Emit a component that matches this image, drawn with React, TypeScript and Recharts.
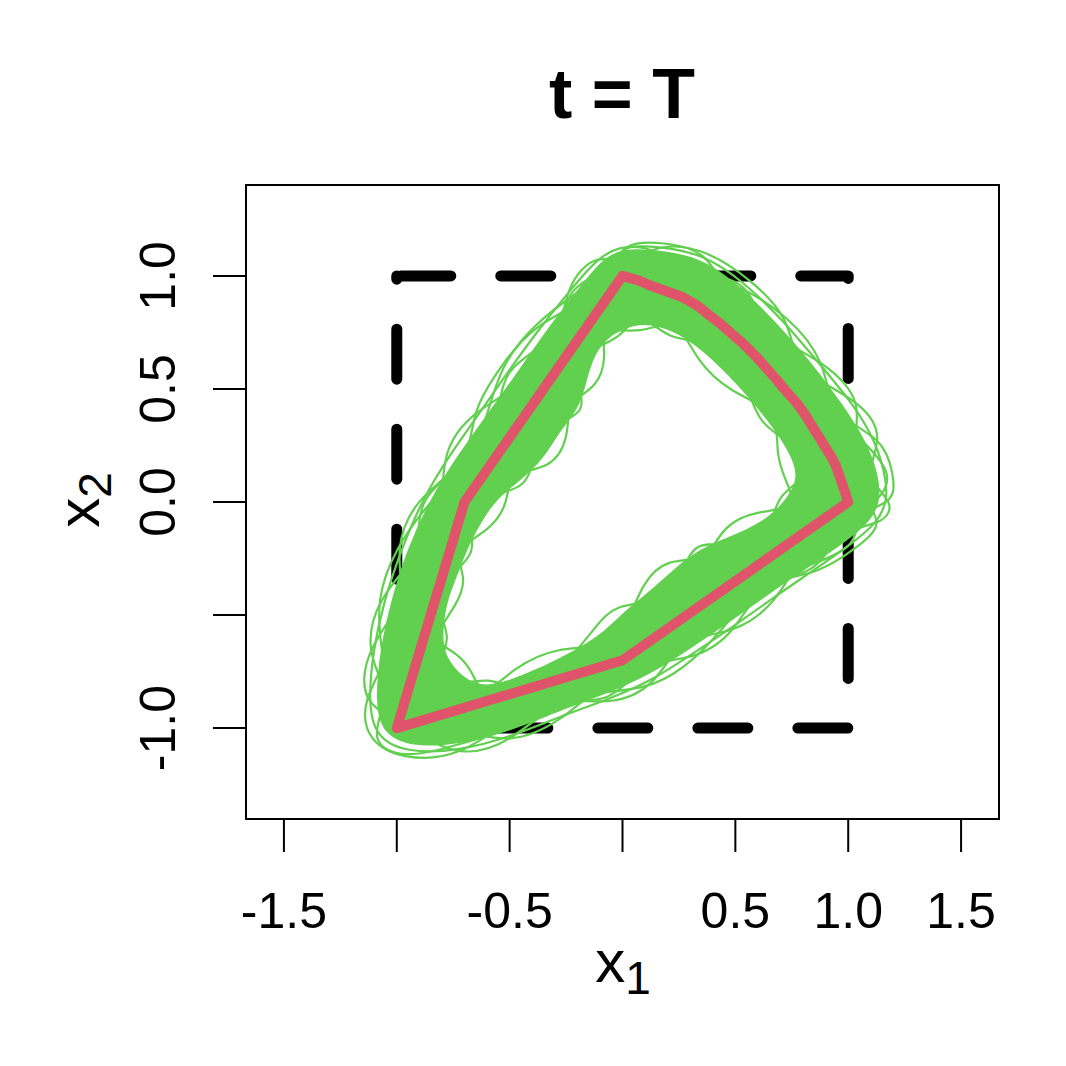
import { ScatterChart, Scatter, XAxis, YAxis, ReferenceArea } from 'recharts'

const GREEN = '#61D04F'
const RED = '#DF536B'
const FONT = '"Liberation Sans", Arial, Helvetica, sans-serif'

// axis limits and ticks
const X_DOMAIN = [-1.668, 1.668]
const Y_DOMAIN = [-1.402, 1.402]
const xTicks = [-1.5, -1, -0.5, 0, 0.5, 1, 1.5]
const xTickLabels = ['-1.5', '', '-0.5', '', '0.5', '1.0', '1.5']
const yTicks = [-1, -0.5, 0, 0.5, 1]
const yTickLabels = ['-1.0', '', '0.0', '0.5', '1.0']

// dashed square
const square = [[-1, 1], [1, 1], [1, -1], [-1, -1]]

// true boundary (red)
const truth = [
  [-1, -1], [-0.7, 0], [0, 1], [0.07, 0.98], [0.13, 0.955], [0.2, 0.93], [0.264, 0.907],
  [0.33, 0.87], [0.38, 0.83], [0.435, 0.787], [0.485, 0.743], [0.54, 0.695], [0.59, 0.645],
  [0.635, 0.595], [0.68, 0.544], [0.725, 0.49], [0.77, 0.44], [0.81, 0.385], [0.84, 0.336],
  [0.875, 0.28], [0.9, 0.24], [0.925, 0.2], [0.946, 0.159], [0.97, 0.09], [1, 0], [0, -0.7],
]

// dense band of estimates: outer edge and inner hole
const bandOuter = [
  [0.0, 1.12], [0.16, 1.11], [0.34, 1.08], [0.5, 0.97], [0.67, 0.8], [0.83, 0.62], [0.98, 0.42],
  [1.08, 0.26], [1.13, 0.12], [1.14, 0.01], [1.1, -0.08], [0.99, -0.17], [0.83, -0.28],
  [0.65, -0.4], [0.47, -0.53], [0.29, -0.65], [0.12, -0.76], [-0.06, -0.84], [-0.28, -0.92],
  [-0.5, -1.01], [-0.72, -1.07], [-0.95, -1.08], [-1.07, -1.01], [-1.09, -0.87], [-1.07, -0.65],
  [-1.02, -0.43], [-0.95, -0.21], [-0.85, 0.01], [-0.73, 0.2], [-0.6, 0.38], [-0.47, 0.56],
  [-0.34, 0.75], [-0.2, 0.93], [-0.09, 1.07],
]
const bandInner = [
  [0.073, 0.796], [0.219, 0.765], [0.361, 0.668], [0.507, 0.522], [0.64, 0.367], [0.738, 0.226],
  [0.782, 0.111], [0.729, 0.013], [0.627, -0.088], [0.472, -0.155], [0.339, -0.208],
  [0.228, -0.296], [0.117, -0.398], [-0.007, -0.496], [-0.104, -0.597], [-0.281, -0.695],
  [-0.481, -0.783], [-0.605, -0.819], [-0.702, -0.783], [-0.778, -0.695], [-0.8, -0.606],
  [-0.782, -0.451], [-0.738, -0.341], [-0.694, -0.221], [-0.636, -0.106], [-0.56, 0.013],
  [-0.459, 0.088], [-0.348, 0.19], [-0.281, 0.31], [-0.193, 0.412], [-0.162, 0.522],
  [-0.126, 0.655], [-0.051, 0.743],
]

// single estimated curves that stray outside the band
const est1 = [
  [0.0, 1.15], [0.18, 1.15], [0.38, 1.11], [0.46, 0.91], [0.62, 0.75], [0.9, 0.62], [1.07, 0.44],
  [1.01, 0.24], [1.06, 0.11], [1.07, 0.01], [1.16, -0.1], [1.04, -0.2], [0.87, -0.32],
  [0.61, -0.35], [0.43, -0.48], [0.26, -0.6], [0.14, -0.82], [-0.05, -0.9], [-0.28, -0.86],
  [-0.49, -0.95], [-0.72, -1.13], [-0.97, -1.14], [-1.13, -1.06], [-1.16, -0.88], [-1.01, -0.65],
  [-0.96, -0.43], [-1.01, -0.21], [-0.92, 0.02], [-0.67, 0.18], [-0.67, 0.4], [-0.54, 0.6],
  [-0.4, 0.78], [-0.15, 0.89], [-0.05, 1.02],
]
const est2 = [
  [0.0, 1.05], [0.18, 1.15], [0.38, 1.11], [0.56, 0.99], [0.74, 0.82], [0.77, 0.58], [0.92, 0.39],
  [1.16, 0.28], [1.2, 0.12], [1.21, 0.0], [1.04, -0.05], [0.95, -0.12], [0.79, -0.23],
  [0.68, -0.45], [0.5, -0.58], [0.26, -0.6], [0.09, -0.7], [-0.07, -0.78], [-0.28, -0.98],
  [-0.5, -1.07], [-0.7, -1.01], [-0.92, -1.02], [-1.01, -0.96], [-1.03, -0.86], [-1.14, -0.66],
  [-1.09, -0.43], [-0.89, -0.22], [-0.79, 0.0], [-0.8, 0.22], [-0.67, 0.4], [-0.41, 0.53],
  [-0.28, 0.71], [-0.25, 0.96], [-0.12, 1.1],
]
const est3 = [
  [0.0, 1.15], [0.16, 1.11], [0.31, 1.01], [0.5, 0.97], [0.74, 0.82], [0.9, 0.62], [0.92, 0.39],
  [1.08, 0.26], [1.2, 0.12], [1.14, 0.01], [1.04, -0.05], [1.04, -0.2], [0.83, -0.28],
  [0.61, -0.35], [0.47, -0.53], [0.32, -0.7], [0.14, -0.82], [-0.06, -0.84], [-0.28, -0.86],
  [-0.5, -1.01], [-0.72, -1.07], [-0.97, -1.14], [-1.13, -1.06], [-1.03, -0.86], [-1.07, -0.65],
  [-1.09, -0.43], [-1.01, -0.21], [-0.85, 0.01], [-0.67, 0.18], [-0.6, 0.38], [-0.54, 0.6],
  [-0.4, 0.78], [-0.2, 0.93], [-0.05, 1.02],
]
const est4 = [
  [0.0, 1.15], [0.15, 1.04], [0.31, 1.01], [0.56, 0.99], [0.62, 0.75], [0.77, 0.58], [1.07, 0.44],
  [1.16, 0.28], [1.06, 0.11], [1.21, 0.0], [1.16, -0.1], [0.95, -0.12], [0.87, -0.32],
  [0.61, -0.35], [0.5, -0.58], [0.32, -0.7], [0.09, -0.7], [-0.05, -0.9], [-0.28, -0.86],
  [-0.5, -1.07], [-0.72, -1.13], [-0.92, -1.02], [-1.01, -0.96], [-1.16, -0.88], [-1.14, -0.66],
  [-0.96, -0.43], [-0.89, -0.22], [-0.92, 0.02], [-0.67, 0.18], [-0.54, 0.36], [-0.54, 0.6],
  [-0.28, 0.71], [-0.25, 0.96], [-0.05, 1.02],
]
const est5 = [
  [0.0, 1.135], [0.17, 1.13], [0.36, 1.095], [0.53, 0.98], [0.705, 0.81], [0.865, 0.62],
  [1.025, 0.43], [1.12, 0.27], [1.165, 0.12], [1.175, 0.005], [1.13, -0.09], [1.015, -0.185],
  [0.85, -0.3], [0.665, -0.425], [0.485, -0.555], [0.305, -0.675], [0.13, -0.79], [-0.055, -0.87],
  [-0.28, -0.95], [-0.5, -1.04], [-0.72, -1.1], [-0.96, -1.11], [-1.1, -1.035], [-1.125, -0.875],
  [-1.105, -0.655], [-1.055, -0.43], [-0.98, -0.21], [-0.885, 0.015], [-0.765, 0.21],
  [-0.635, 0.39], [-0.505, 0.58], [-0.37, 0.765], [-0.225, 0.945], [-0.105, 1.085],
]
// single estimated curves that dip into the hole
const est6 = [
  [0.07, 0.86], [0.24, 0.82], [0.33, 0.62], [0.47, 0.49], [0.69, 0.4], [0.8, 0.24], [0.85, 0.12],
  [0.78, -0.03], [0.59, -0.04], [0.45, -0.1], [0.37, -0.26], [0.26, -0.35], [0.15, -0.45],
  [0.02, -0.55], [-0.08, -0.65], [-0.29, -0.64], [-0.48, -0.73], [-0.62, -0.87], [-0.74, -0.82],
  [-0.83, -0.72], [-0.85, -0.61], [-0.73, -0.45], [-0.69, -0.34], [-0.75, -0.21], [-0.69, -0.09],
  [-0.61, 0.04], [-0.5, 0.13], [-0.31, 0.15], [-0.24, 0.28], [-0.24, 0.44], [-0.21, 0.54],
  [-0.18, 0.67], [-0.1, 0.78],
]
const est7 = [
  [0.08, 0.74], [0.24, 0.82], [0.4, 0.72], [0.55, 0.56], [0.69, 0.4], [0.68, 0.21], [0.72, 0.1],
  [0.78, -0.03], [0.66, -0.14], [0.5, -0.21], [0.37, -0.26], [0.2, -0.25], [0.09, -0.35],
  [0.02, -0.55], [-0.08, -0.65], [-0.27, -0.75], [-0.48, -0.84], [-0.62, -0.87], [-0.67, -0.74],
  [-0.73, -0.67], [-0.85, -0.61], [-0.84, -0.45], [-0.79, -0.34], [-0.75, -0.21], [-0.58, -0.12],
  [-0.51, -0.01], [-0.5, 0.13], [-0.39, 0.23], [-0.33, 0.34], [-0.24, 0.44], [-0.11, 0.51],
  [-0.07, 0.64], [-0.1, 0.78],
]
const est8 = [
  [0.07, 0.86], [0.2, 0.71], [0.4, 0.72], [0.55, 0.56], [0.59, 0.34], [0.8, 0.24], [0.85, 0.12],
  [0.68, 0.04], [0.66, -0.14], [0.5, -0.21], [0.31, -0.16], [0.26, -0.35], [0.15, -0.45],
  [-0.03, -0.45], [-0.12, -0.55], [-0.27, -0.75], [-0.48, -0.84], [-0.59, -0.77], [-0.74, -0.82],
  [-0.83, -0.72], [-0.75, -0.6], [-0.84, -0.45], [-0.79, -0.34], [-0.64, -0.23], [-0.69, -0.09],
  [-0.61, 0.04], [-0.42, 0.05], [-0.39, 0.23], [-0.33, 0.34], [-0.15, 0.39], [-0.21, 0.54],
  [-0.18, 0.67], [0.0, 0.72],
]
const estimates = [est1, est2, est3, est4, est5, est6, est7, est8]

const toPoints = (arr: number[][]) => arr.map(([x, y]) => ({ x, y }))
const noDot = () => <g />

function YTick(props: any) {
  const { x, y, payload } = props
  const label = yTickLabels[yTicks.indexOf(payload.value)]
  return (
    <text
      x={x}
      y={y}
      transform={`rotate(-90 ${x} ${y})`}
      textAnchor="middle"
      fill="#000"
      fontSize={50}
      fontFamily={FONT}
    >
      {label}
    </text>
  )
}

export default function App() {
  return (
    <div style={{ position: 'absolute', left: 0, top: 0, width: 1066, height: 1066, background: '#fff', fontFamily: FONT }}>
      <ScatterChart width={1066} height={1066} margin={{ top: 185, right: 67, bottom: 0, left: 0 }}>
        <XAxis
          type="number"
          dataKey="x"
          domain={X_DOMAIN}
          ticks={xTicks}
          interval={0}
          allowDataOverflow
          height={247}
          axisLine={false}
          tickLine={{ stroke: '#000', strokeWidth: 2 }}
          tickSize={33}
          tickMargin={40}
          tickFormatter={(v: number) => xTickLabels[xTicks.indexOf(v)]}
          tick={{ fill: '#000', fontSize: 50, fontFamily: FONT }}
        />
        <YAxis
          type="number"
          dataKey="y"
          domain={Y_DOMAIN}
          ticks={yTicks}
          interval={0}
          allowDataOverflow
          width={246}
          axisLine={false}
          tickLine={{ stroke: '#000', strokeWidth: 2 }}
          tickSize={33}
          tickMargin={38}
          tick={<YTick />}
        />
        <ReferenceArea
          x1={X_DOMAIN[0]}
          x2={X_DOMAIN[1]}
          y1={Y_DOMAIN[0]}
          y2={Y_DOMAIN[1]}
          fill="none"
          stroke="#000"
          strokeWidth={2}
        />
        <Scatter
          data={toPoints(square)}
          fill="none"
          shape={noDot}
          line={{ stroke: '#000', strokeWidth: 11, strokeDasharray: '50 50', strokeDashoffset: 96, strokeLinecap: 'round', strokeLinejoin: 'round' }}
          lineJointType="linearClosed"
          isAnimationActive={false}
        />
        <Scatter
          data={toPoints(bandOuter)}
          fill="none"
          shape={noDot}
          line={{ stroke: GREEN, strokeWidth: 2, fill: GREEN }}
          lineJointType="basisClosed"
          isAnimationActive={false}
        />
        <Scatter
          data={toPoints(bandInner)}
          fill="none"
          shape={noDot}
          line={{ stroke: 'none', fill: '#fff' }}
          lineJointType="basisClosed"
          isAnimationActive={false}
        />
        {estimates.map((est, i) => (
          <Scatter
            key={i}
            data={toPoints(est)}
            fill="none"
            shape={noDot}
            line={{ stroke: GREEN, strokeWidth: 2.2 }}
            lineJointType="basisClosed"
            isAnimationActive={false}
          />
        ))}
        <Scatter
          data={toPoints(truth)}
          fill="none"
          shape={noDot}
          line={{ stroke: RED, strokeWidth: 10, strokeLinejoin: 'round' }}
          lineJointType="linearClosed"
          isAnimationActive={false}
        />
      </ScatterChart>

      <div style={{ position: 'absolute', left: 322, width: 600, top: 59, lineHeight: 1, fontSize: 70, fontWeight: 'bold', textAlign: 'center', color: '#000' }}>
        t = T
      </div>
      <div style={{ position: 'absolute', left: 423, width: 400, top: 922, height: 80, lineHeight: '80px', fontSize: 60, textAlign: 'center', color: '#000' }}>
        x<span style={{ fontSize: 46, position: 'relative', top: 12 }}>1</span>
      </div>
      <div style={{ position: 'absolute', left: -21, width: 200, top: 460, height: 80, lineHeight: '80px', fontSize: 60, textAlign: 'center', color: '#000', transform: 'rotate(-90deg)' }}>
        x<span style={{ fontSize: 46, position: 'relative', top: 12 }}>2</span>
      </div>
    </div>
  )
}
